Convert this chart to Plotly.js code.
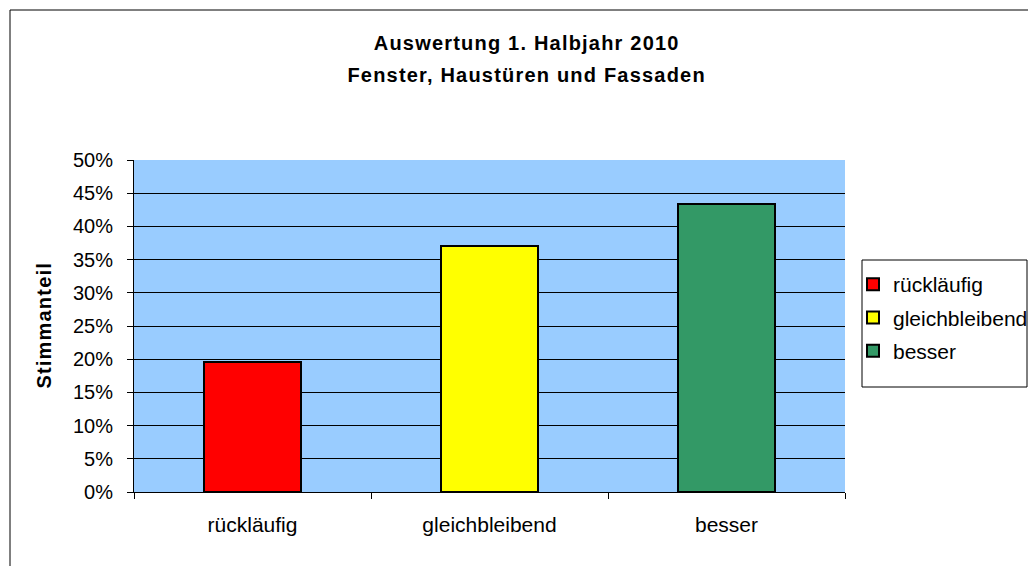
<!DOCTYPE html>
<html>
<head>
<meta charset="utf-8">
<script src="https://cdn.plot.ly/plotly-3.0.1.min.js"></script>
<style>
  html, body { margin: 0; padding: 0; background: #fff; overflow: hidden; width: 1028px; height: 566px; }
  #chart { width: 1028px; height: 566px; display: block; }
</style>
</head>
<body>
<div id="chart"></div>
<script>
const categories = ['rückläufig', 'gleichbleibend', 'besser'];
const shares = [0.196, 0.370, 0.434];
const colors = ['#FF0000', '#FFFF00', '#339966'];
const titleLines = ['Auswertung 1. Halbjahr 2010', 'Fenster, Haustüren und Fassaden'];
const yTitle = 'Stimmanteil';
const yTicks = [0, 0.05, 0.10, 0.15, 0.20, 0.25, 0.30, 0.35, 0.40, 0.45, 0.50];

const font = 'Arial, "Liberation Sans", sans-serif';

const traces = categories.map((c, i) => ({
  type: 'bar',
  name: c,
  x: [c],
  y: [shares[i]],
  legendgroup: 'g' + i,
  marker: { color: colors[i], line: { color: '#000', width: 2 } },
  hoverinfo: 'x+y'
}));

// plot area in px: left 134, right 845, top 160, bottom 492
const W = 1028, H = 566;
const L = 134, R = 845, T = 160, B = 492;
const px2x = p => (p - L) / (R - L);
const px2y = p => (B - p) / (B - T);

const layout = {
  width: W, height: H, autosize: false,
  margin: { l: L, r: W - R, t: T, b: H - B, pad: 0 },
  paper_bgcolor: '#ffffff',
  plot_bgcolor: '#99CCFF',
  barmode: 'stack',
  bargap: 0.59,
  showlegend: true,
  font: { family: font, size: 20, color: '#000' },
  xaxis: {
    type: 'category',
    categoryorder: 'array',
    categoryarray: categories,
    showline: true, linecolor: '#000', linewidth: 1,
    ticks: 'outside', ticklen: 6, tickcolor: '#000', tickson: 'boundaries',
    ticklabelstandoff: 14,
    showgrid: false, zeroline: false,
    tickfont: { family: font, size: 21, color: '#000' }
  },
  yaxis: {
    range: [0, 0.5],
    tickvals: yTicks,
    tickformat: '.0%',
    showline: true, linecolor: '#000', linewidth: 1,
    ticks: 'outside', ticklen: 6, tickcolor: '#000',
    ticklabelstandoff: 10,
    showgrid: true, gridcolor: '#000', gridwidth: 1,
    zeroline: false,
    tickfont: { family: font, size: 20, color: '#000' }
  },
  legend: {
    xref: 'container', yref: 'container',
    x: 853 / W, y: 1 - 264 / H, xanchor: 'left', yanchor: 'top',
    bgcolor: 'rgba(0,0,0,0)', borderwidth: 0,
    tracegroupgap: 3,
    font: { family: font, size: 21, color: '#000' }
  },
  annotations: [
    { text: '<b>' + titleLines[0] + '</b>', xref: 'paper', yref: 'paper',
      x: px2x(526), y: px2y(43), xanchor: 'center', yanchor: 'middle', showarrow: false,
      font: { family: font, size: 20, color: '#000' } },
    { text: '<b>' + titleLines[1] + '</b>', xref: 'paper', yref: 'paper',
      x: px2x(526), y: px2y(75), xanchor: 'center', yanchor: 'middle', showarrow: false,
      font: { family: font, size: 20, color: '#000' } },
    { text: '<b>' + yTitle + '</b>', xref: 'paper', yref: 'paper',
      x: px2x(44), y: px2y(326), xanchor: 'center', yanchor: 'middle', showarrow: false,
      textangle: -90,
      font: { family: font, size: 20, color: '#000' } }
  ],
  shapes: [
    // outer chart frame (left and top edges visible)
    { type: 'rect', xref: 'paper', yref: 'paper',
      x0: px2x(10), x1: px2x(1100), y0: px2y(620), y1: px2y(10),
      line: { color: '#000', width: 1 }, fillcolor: 'rgba(0,0,0,0)', layer: 'above' },
    // legend box
    { type: 'rect', xref: 'paper', yref: 'paper',
      x0: px2x(862), x1: px2x(1027), y0: px2y(387), y1: px2y(260),
      line: { color: '#000', width: 1 }, fillcolor: 'rgba(0,0,0,0)', layer: 'above' }
  ]
};

Plotly.newPlot('chart', traces, layout, { displayModeBar: false, responsive: false }).then(() => {
  document.querySelectorAll('.annotation-text').forEach(el => { el.style.letterSpacing = '1.2px'; });
});
</script>
</body>
</html>
